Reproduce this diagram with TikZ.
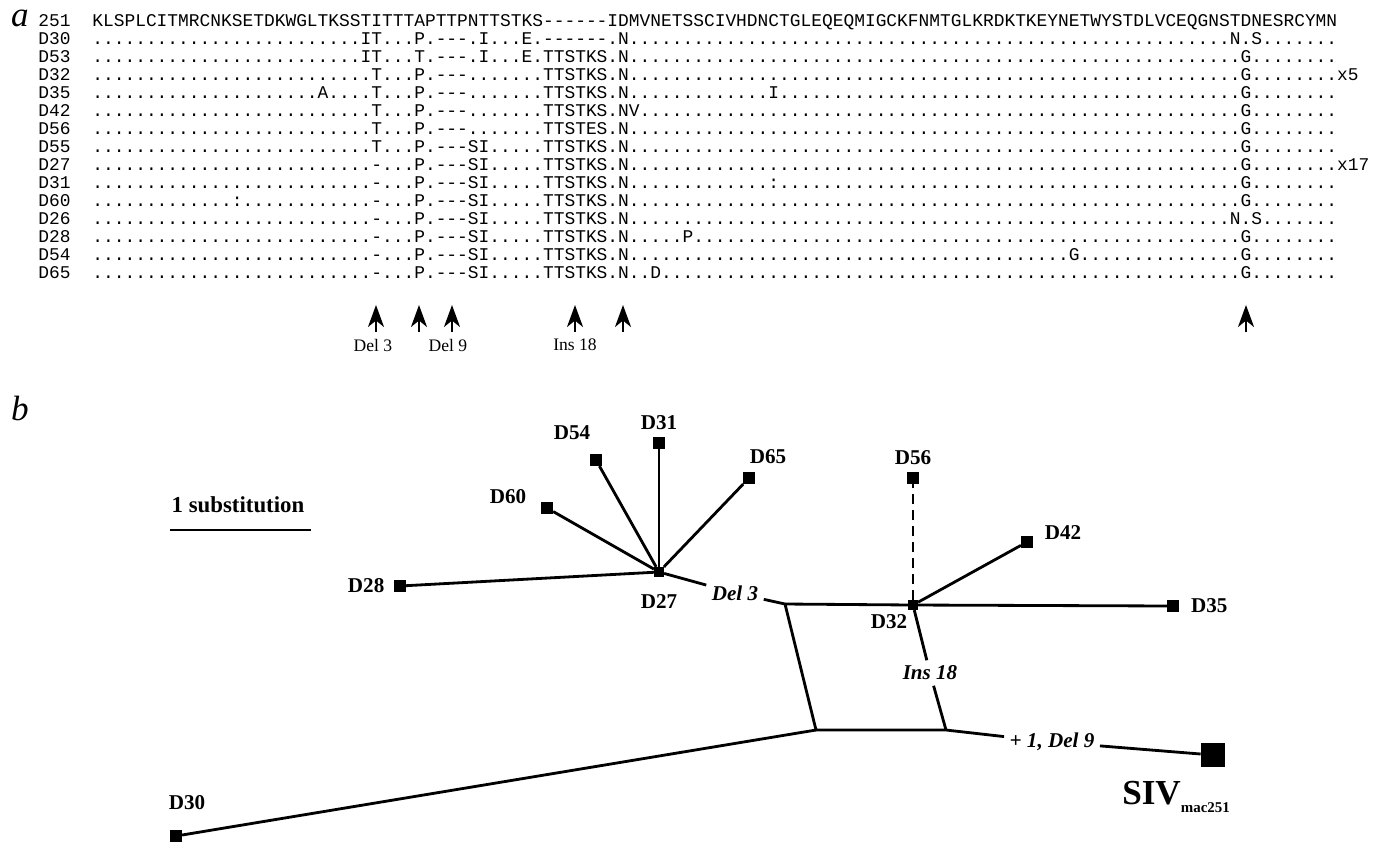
\documentclass[tikz,border=0pt]{standalone}
\usepackage{fontspec}
\setmainfont{Liberation Serif}
\setmonofont{Liberation Mono}
\usetikzlibrary{arrows.meta,positioning}

% a run of n dots (residue identical to 251)
\newcommand\dts[1]{\ifnum#1>0 .\expandafter\dts\expandafter{\the\numexpr#1-1\relax}\fi}
% one line of the alignment: name, baseline, residues
\newcommand\seqrow[3]{%
  \node[seq] (l#1) at (38,#2) {#1};
  \node[seq] (s#1) at (92,#2) {#3};}

\begin{document}
\begin{tikzpicture}[
  x=0.02cm, y=-0.02cm,
  seq/.style={anchor=base west, inner sep=0pt,
    font=\ttfamily\fontsize{10.18}{12}\selectfont},
  panel/.style={inner sep=0pt, font=\itshape\fontsize{20}{22}\selectfont},
  siteptr/.style={line width=1.3pt,
    -{Stealth[length=0.44cm, width=0.32cm, inset=0.13cm]}},
  sitelab/.style={inner sep=1pt, font=\fontsize{10}{12}\selectfont},
  taxon/.style={rectangle, fill=black, inner sep=0pt, minimum size=0.23cm},
  hub/.style={rectangle, fill=black, inner sep=0pt, minimum size=0.19cm},
  tname/.style={inner sep=1pt, font=\bfseries\fontsize{12}{14}\selectfont},
  event/.style={inner sep=3pt, font=\bfseries\itshape\fontsize{12}{14}\selectfont},
  branch/.style={line width=1.6pt},
  twig/.style={line width=0.9pt}
]
\useasboundingbox (0,0) rectangle (1385,843);

% panel a: alignment
\node[panel] (panela) at (20,18) {a};
\seqrow{251}{26}{KLSPLCITMRCNKSETDKWGLTKSSTITTTAPTTPNTTSTKS------IDMVNETSSCIVHDNCTGLEQEQMIGCKFNMTGLKRDKTKEYNETWYSTDLVCEQGNSTDNESRCYMN}
\seqrow{D30}{44}{\dts{25}IT...P.---.I...E.------.N.\dts{55}N.S\dts{7}}
\seqrow{D53}{62}{\dts{25}IT...T.---.I...E.TTSTKS.N.\dts{56}G\dts{8}}
\seqrow{D32}{80}{\dts{25}.T...P.---.......TTSTKS.N.\dts{56}G\dts{8}x5}
\seqrow{D35}{98}{\dts{21}A....T...P.---.......TTSTKS.N.\dts{12}I\dts{43}G\dts{8}}
\seqrow{D42}{116}{\dts{25}.T...P.---.......TTSTKS.NV\dts{56}G\dts{8}}
\seqrow{D56}{134}{\dts{25}.T...P.---.......TTSTES.N.\dts{56}G\dts{8}}
\seqrow{D55}{152}{\dts{25}.T...P.---SI.....TTSTKS.N.\dts{56}G\dts{8}}
\seqrow{D27}{170}{\dts{25}.-...P.---SI.....TTSTKS.N.\dts{56}G\dts{8}x17}
\seqrow{D31}{188}{\dts{25}.-...P.---SI.....TTSTKS.N.\dts{12}:\dts{43}G\dts{8}}
\seqrow{D60}{206}{\dts{13}:\dts{11}.-...P.---SI.....TTSTKS.N.\dts{56}G\dts{8}}
\seqrow{D26}{224}{\dts{25}.-...P.---SI.....TTSTKS.N.\dts{55}N.S\dts{7}}
\seqrow{D28}{242}{\dts{25}.-...P.---SI.....TTSTKS.N.\dts{4}P\dts{51}G\dts{8}}
\seqrow{D54}{260}{\dts{25}.-...P.---SI.....TTSTKS.N.\dts{40}G\dts{15}G\dts{8}}
\seqrow{D65}{278}{\dts{25}.-...P.---SI.....TTSTKS.N..D\dts{54}G\dts{8}}

% sites pointed at below the alignment
\foreach \x/\n in {376/1, 419/2, 452/3, 575/4, 623/5, 1246/6}{
  \coordinate (pb\n) at (\x,332);
  \coordinate (pt\n) at (\x,305);
  \draw[siteptr] (pb\n) -- (pt\n);
}
\node[sitelab] (del3a) at (373,345) {Del 3};
\node[sitelab] (del9a) at (448,345) {Del 9};
\node[sitelab] (ins18a) at (575,345) {Ins 18};

% panel b: network
\node[panel] (panelb) at (20,408) {b};
\coordinate (bar0) at (170,530);
\coordinate (bar1) at (311,530);
\draw[branch] (bar0) -- (bar1);
\node[tname, font=\bfseries\fontsize{13}{15}\selectfont] (barlab) at (238,505) {1 substitution};

\node[hub] (d27) at (659,572) {};
\node[taxon] (d31) at (659,443) {};
\node[taxon] (d54) at (596,460) {};
\node[taxon] (d65) at (749,478) {};
\node[taxon] (d60) at (547,508) {};
\node[taxon] (d28) at (400,586) {};
\node[hub] (d32) at (913,605) {};
\node[taxon] (d56) at (913,478) {};
\node[taxon] (d42) at (1027,542) {};
\node[taxon] (d35) at (1173,606) {};
\node[taxon] (d30) at (176,836) {};
\node[taxon, minimum size=0.48cm] (siv) at (1213,755) {};
\coordinate (j1) at (785,604);
\coordinate (j2) at (816,730);
\coordinate (j3) at (946,730);
\node[event] (del3) at (735,593) {Del 3};
\node[event] (ins18) at (930,673) {Ins 18};
\node[event] (del9) at (1052,742) {+ 1, Del 9};

\node[tname, above=0.1cm of d31] (t31) {D31};
\node[tname] (t54) at (572,433) {D54};
\node[tname] (t65) at (768,457) {D65};
\node[tname] (t60) at (508,497) {D60};
\node[tname, left=0.15cm of d28] (t28) {D28};
\node[tname, below=0.3cm of d27] (t27) {D27};
\node[tname, above=0.1cm of d56] (t56) {D56};
\node[tname] (t42) at (1063,533) {D42};
\node[tname] (t32) at (889,622) {D32};
\node[tname, right=0.2cm of d35] (t35) {D35};
\node[tname] (t30) at (187,803) {D30};
\node[tname, font=\bfseries\fontsize{20}{22}\selectfont] (tsiv) at (1176,797)
  {SIV\raisebox{-0.5ex}{\fontsize{8.5}{10}\selectfont mac251}};

\draw[branch] (d27) -- (d28);
\draw[branch] (d27) -- (d60);
\draw[branch] (d27) -- (d54);
\draw[twig] (d27) -- (d31);
\draw[branch] (d27) -- (d65);
\draw[branch] (d27) -- (del3) -- (j1);
\draw[branch] (j1) -- (d32) -- (d35);
\draw[branch, dash pattern=on 0.2cm off 0.12cm] (d32) -- (d56);
\draw[branch] (d32) -- (d42);
\draw[branch] (d32) -- (ins18) -- (j3);
\draw[branch] (j1) -- (j2) -- (j3) -- (del9) -- (siv);
\draw[branch] (j2) -- (d30);
\end{tikzpicture}
\end{document}
